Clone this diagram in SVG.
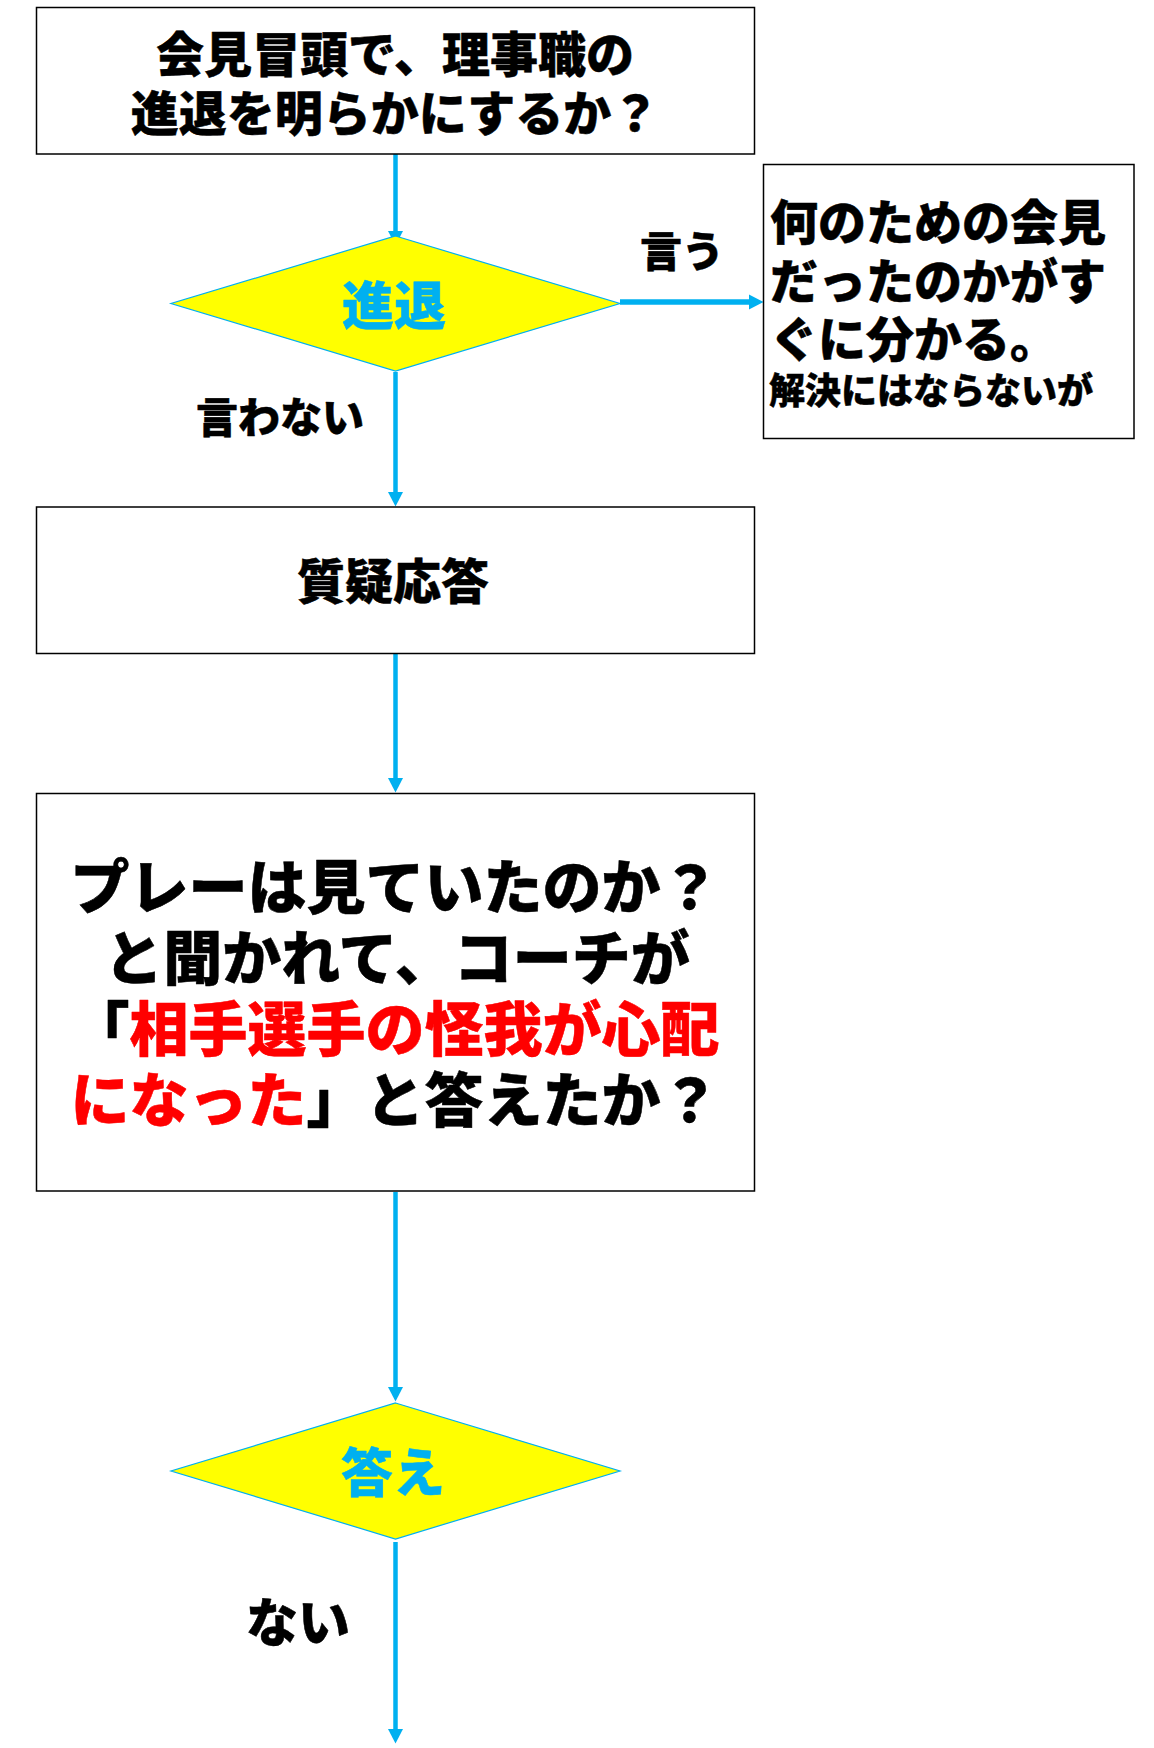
<svg xmlns="http://www.w3.org/2000/svg" width="1154" height="1748" viewBox="0 0 1154 1748">
<style>
text { font-family: "Noto Sans CJK JP", "Noto Sans CJK SC", sans-serif; font-weight: 900; stroke-linejoin: round; stroke-width: 0.5; }
.box { fill: #ffffff; stroke: #000000; stroke-width: 1.5; }
.dia { fill: #ffff00; stroke: #00b0f0; stroke-width: 1.2; }
.blk { fill: #000000; stroke: #000000; }
.red { fill: #ff0000; stroke: #ff0000; }
.cy { fill: #00b0f0; stroke: #00b0f0; }
.conn { stroke: #00b0f0; stroke-width: 4.5; fill: none; marker-end: url(#ah); }
</style>
<defs>
<marker id="ah" markerUnits="userSpaceOnUse" markerWidth="15" markerHeight="16" refX="0" refY="7.5" orient="auto" viewBox="0 0 15 15">
<path d="M0,0 L14.5,7.5 L0,15 z" fill="#00b0f0"/>
</marker>
</defs>
<rect width="1154" height="1748" fill="#ffffff"/>
<g id="connectors">
<line class="conn" x1="395.5" y1="154" x2="395.5" y2="231"/>
<line class="conn" x1="620" y1="302" x2="749" y2="302" style="stroke-width:5.5"/>
<line class="conn" x1="395.5" y1="372" x2="395.5" y2="492"/>
<line class="conn" x1="395.5" y1="654" x2="395.5" y2="778"/>
<line class="conn" x1="395.5" y1="1192" x2="395.5" y2="1387"/>
<line class="conn" x1="395.5" y1="1542" x2="395.5" y2="1729"/>
</g>
<g id="start">
<rect class="box" x="36.5" y="7.5" width="718" height="146.5"/>
<text class="blk" font-size="48" text-anchor="middle"><tspan x="395" y="72">会見冒頭で、理事職の</tspan><tspan x="395" y="131">進退を明らかにするか？</tspan></text>
</g>
<g id="decision1">
<polygon class="dia" points="395.5,236 620,303.5 395.5,371 171,303.5"/>
<text class="cy" x="394" y="325" font-size="52" text-anchor="middle">進退</text>
</g>
<g id="label-iu">
<text class="blk" x="640" y="267" font-size="42">言う</text>
</g>
<g id="label-iwanai">
<text class="blk" x="196" y="433" font-size="42">言わない</text>
</g>
<g id="result1">
<rect class="box" x="763.5" y="164.5" width="370.5" height="274"/>
<text class="blk" font-size="48"><tspan x="770" y="240">何のための会見</tspan><tspan x="770" y="299">だったのかがす</tspan><tspan x="770" y="357">ぐに分かる。</tspan><tspan x="769" y="404" font-size="36">解決にはならないが</tspan></text>
</g>
<g id="qa">
<rect class="box" x="36.5" y="507" width="718" height="146.5"/>
<text class="blk" x="393" y="599" font-size="48" text-anchor="middle">質疑応答</text>
</g>
<g id="question">
<rect class="box" x="36.5" y="793.5" width="718" height="397.5"/>
<text font-size="59" text-anchor="middle"><tspan class="blk" x="395" y="909">プレーは見ていたのか？</tspan><tspan class="blk" x="397" y="980">と聞かれて、コーチが</tspan><tspan x="395" y="1051"><tspan class="blk">「</tspan><tspan class="red">相手選手の怪我が心配</tspan></tspan><tspan x="395" y="1122"><tspan class="red">になった</tspan><tspan class="blk">」と答えたか？</tspan></tspan></text>
</g>
<g id="decision2">
<polygon class="dia" points="395.5,1403 620,1471 395.5,1539 171,1471"/>
<text class="cy" x="393" y="1492" font-size="52" text-anchor="middle">答え</text>
</g>
<g id="label-nai">
<text class="blk" x="298" y="1642" font-size="52" text-anchor="middle">ない</text>
</g>
</svg>
